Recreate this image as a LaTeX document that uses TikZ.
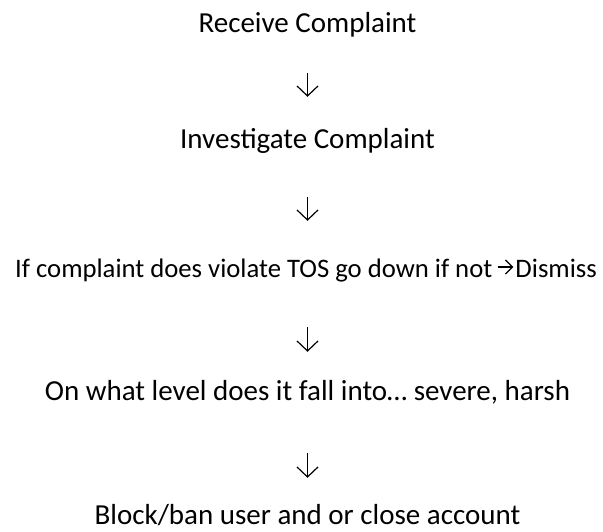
\documentclass[tikz,border=0pt]{standalone}
\usepackage{fontspec}
\setmainfont{Carlito}
\usetikzlibrary{arrows.meta,positioning}

\tikzset{
  bigtext/.style={font=\fontsize{29}{34}\selectfont, text height=19pt, text depth=0pt, anchor=base},
  smalltext/.style={font=\fontsize{26.7}{32}\selectfont, text height=20pt, text depth=0pt},
  flow/.style={draw=black, line width=1.2pt, -{Straight Barb[length=10pt,width=21pt]}},
  sideflow/.style={draw=black, line width=1.2pt, -{Straight Barb[length=7pt,width=14pt]}}
}

\begin{document}
\begin{tikzpicture}[x=1pt,y=-1pt]
    \tikzstyle{every node}+=[inner sep=0pt]
    \useasboundingbox (0,0) rectangle (603,531);
    \node[bigtext] (receive) at (307.5,32) {Receive Complaint};
    \node[bigtext] (investigate) at (307.5,148) {Investigate Complaint};
    \node[smalltext, anchor=base west] (violate) at (15,277) {If complaint does violate TOS go down if not};
    \node[smalltext, anchor=base east] (dismiss) at (597,277) {Dismiss};
    \node[bigtext] (level) at (307.5,400) {On what level does it fall into… severe, harsh};
    \node[bigtext] (block) at (307.5,524) {Block/ban user and or close account};
    \draw[flow, shorten <=41pt, shorten >=32pt] (receive) -- (investigate);
    \draw[flow, shorten <=49pt, shorten >=36pt] (investigate.south) -- (investigate.south |- violate.north);
    \draw[sideflow, shorten <=5pt, shorten >=2pt] (violate) -- (dismiss);
    \draw[flow, shorten <=50pt, shorten >=29pt] (violate.south -| level.north) -- (level.north);
    \draw[flow, shorten <=53pt, shorten >=27pt] (level) -- (block);
\end{tikzpicture}
\end{document}
